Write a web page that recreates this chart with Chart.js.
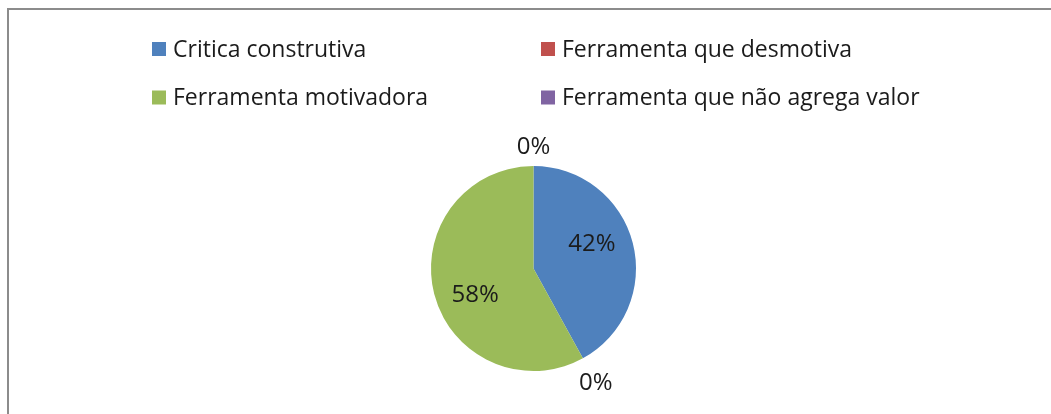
<!DOCTYPE html>
<html>
<head>
<meta charset="utf-8">
<script src="https://cdn.jsdelivr.net/npm/chart.js@4.4.1/dist/chart.umd.min.js"></script>
<style>
  html, body { margin: 0; padding: 0; background: #ffffff; }
  #wrap { position: relative; width: 1051px; height: 414px; overflow: hidden; }
  #frame { position: absolute; left: 7px; top: 8px; width: 1060px; height: 420px;
           border-left: 2px solid #8c8c8c; border-top: 2px solid #8c8c8c; box-sizing: border-box; }
  canvas { position: absolute; left: 0; top: 0; }
</style>
</head>
<body>
<div id="wrap">
  <div id="frame"></div>
  <canvas id="c" width="1051" height="414"></canvas>
</div>
<script>
const categories = ['Critica construtiva', 'Ferramenta que desmotiva', 'Ferramenta motivadora', 'Ferramenta que não agrega valor'];
const percentages = [42, 0, 58, 0];
const sliceColors = ['#4F81BD', '#C0504D', '#9BBB59', '#8064A2'];

const FONT = '"Open Sans", "Liberation Sans", sans-serif';

const gridLegend = {
  id: 'gridLegend',
  afterDraw(chart) {
    const ctx = chart.ctx;
    const colX = [152, 541];
    const rowY = [49, 97.5];
    const box = 14;
    ctx.save();
    ctx.font = '23px ' + FONT;
    ctx.textBaseline = 'middle';
    ctx.textAlign = 'left';
    chart.data.labels.forEach((lab, i) => {
      const x = colX[i % 2];
      const y = rowY[Math.floor(i / 2)];
      ctx.fillStyle = chart.data.datasets[0].backgroundColor[i];
      ctx.fillRect(x, y - box / 2, box, box);
      ctx.fillStyle = '#1b1b1b';
      ctx.fillText(lab, x + box + 7, y + 1);
    });
    ctx.restore();
  }
};

const pctLabels = {
  id: 'pctLabels',
  afterDatasetsDraw(chart) {
    const ctx = chart.ctx;
    const meta = chart.getDatasetMeta(0);
    const vals = chart.data.datasets[0].data;
    ctx.save();
    ctx.font = '24px ' + FONT;
    ctx.fillStyle = '#1b1b1b';
    ctx.textAlign = 'center';
    ctx.textBaseline = 'middle';
    meta.data.forEach((arc, i) => {
      const p = arc.getProps(['x', 'y', 'startAngle', 'endAngle', 'outerRadius'], true);
      const txt = vals[i] + '%';
      const w = ctx.measureText(txt).width;
      const h = 18;
      let ang, dist;
      if (vals[i] > 0) {
        ang = (p.startAngle + p.endAngle) / 2 - 9 * Math.PI / 180;
        dist = p.outerRadius * 0.62;
      } else {
        ang = p.endAngle;
        const dx = Math.cos(ang), dy = Math.sin(ang);
        const ext = Math.abs(dx) * w / 2 + Math.abs(dy) * h / 2;
        dist = p.outerRadius + 11 + ext;
      }
      ctx.fillText(txt, p.x + Math.cos(ang) * dist, p.y + Math.sin(ang) * dist + 1);
    });
    ctx.restore();
  }
};

new Chart(document.getElementById('c'), {
  type: 'pie',
  data: {
    labels: categories,
    datasets: [{
      data: percentages,
      backgroundColor: sliceColors,
      borderWidth: 0
    }]
  },
  options: {
    responsive: false,
    animation: false,
    layout: { padding: { top: 166, bottom: 43, left: 16, right: 0 } },
    plugins: {
      legend: { display: false },
      tooltip: { enabled: false }
    }
  },
  plugins: [gridLegend, pctLabels]
});
</script>
</body>
</html>
